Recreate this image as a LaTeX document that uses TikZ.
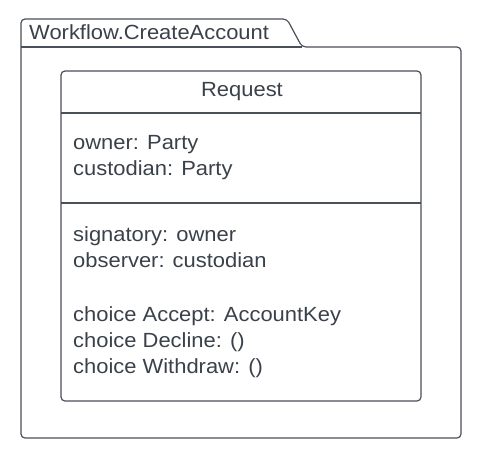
\documentclass[tikz,border=0pt]{standalone}
\usepackage{fontspec}
\setmainfont[FakeStretch=1.07]{Liberation Sans}
\definecolor{txt}{HTML}{3A414A}
\definecolor{ln}{HTML}{4A5059}
\begin{document}
\begin{tikzpicture}[x=1pt,y=-1pt,
  lbl/.style={anchor=base west,inner sep=0pt,text=txt,font=\fontsize{20.5}{24}\selectfont},
  shp/.style={draw=ln,line width=1.2pt,rounded corners=4pt}]
\useasboundingbox (0,0) rectangle (480,458);
% package
\draw[shp] (21,47) -- (21,19) -- (287,19) -- (302,47) -- (461,47) -- (461,438) -- (21,438) -- cycle;
\draw[draw=ln,line width=1.2pt] (21,47) -- (302,47);
\node[lbl] (pkg) at (29,39) {Workflow.CreateAccount};
% class box
\draw[shp] (61,71) rectangle (421,401);
\draw[draw=ln,line width=1.2pt] (61,113) -- (421,113);
\draw[draw=ln,line width=1.2pt] (61,203) -- (421,203);
\node[anchor=base,inner sep=0pt,text=txt,font=\fontsize{20.5}{24}\selectfont] (name) at (242,96) {Request};
\node[lbl] (a1) at (73,149) {owner: Party};
\node[lbl] (a2) at (73,175) {custodian: Party};
\node[lbl] (b1) at (73,241) {signatory: owner};
\node[lbl] (b2) at (73,267) {observer: custodian};
\node[lbl] (c1) at (73,321) {choice Accept: AccountKey};
\node[lbl] (c2) at (73,347) {choice Decline: ()};
\node[lbl] (c3) at (73,373) {choice Withdraw: ()};
\end{tikzpicture}
\end{document}
